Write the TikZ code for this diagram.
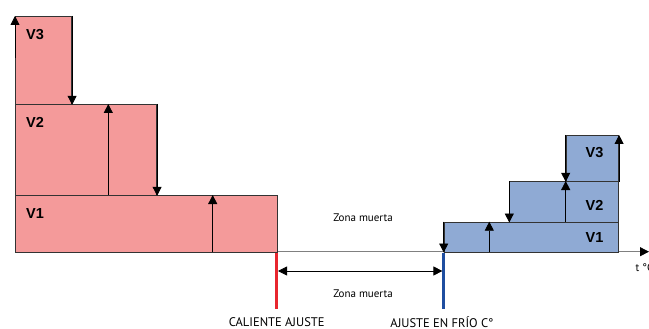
\documentclass[tikz,border=0pt]{standalone}
\usepackage{fontspec}
\setmainfont{PT Sans}
\newfontfamily\vfont{Liberation Sans}
\usetikzlibrary{arrows.meta}
\definecolor{hotfill}{HTML}{F49A9A}
\definecolor{coldfill}{HTML}{8FAAD4}
\definecolor{hotline}{HTML}{E8262E}
\definecolor{coldline}{HTML}{1F4EA0}
\definecolor{edge}{HTML}{333333}
\begin{document}
\begin{tikzpicture}[x=1pt,y=-1pt,
  hotbox/.style={draw=edge,fill=hotfill,line width=0.8pt,inner sep=0pt,anchor=north west},
  coldbox/.style={draw=edge,fill=coldfill,line width=0.8pt,inner sep=0pt,anchor=north west},
  vlab/.style={font=\vfont\bfseries\fontsize{14.5}{14.5}\selectfont,inner sep=0pt},
  small/.style={font=\fontsize{11}{12}\selectfont,inner sep=0pt},
  bottomlab/.style={font=\fontsize{12.5}{13}\selectfont,inner sep=0pt},
  flow/.style={line width=0.8pt,-{Triangle[length=9pt,width=9pt]}},
  marker/.style={line width=2.6pt}]
\useasboundingbox (0,0) rectangle (649,329);
% axis
\coordinate (ax0) at (15,251.7);
\coordinate (ax1) at (649,251.7);
\draw[line width=0.8pt,draw=gray,-{Triangle[length=9pt,width=9pt,fill=black,color=black]}] (ax0) -- (ax1);
% left (hot) boxes
\node[hotbox,minimum width=56.3pt,minimum height=88pt] (lv3) at (15,16) {};
\node[hotbox,minimum width=141.3pt,minimum height=91pt] (lv2) at (15,104) {};
\node[hotbox,minimum width=261.7pt,minimum height=56.7pt] (lv1) at (15,195) {};
\node[vlab] (tl3) at (35,35) {V3};
\node[vlab] (tl2) at (35,122.5) {V2};
\node[vlab] (tl1) at (35,213.5) {V1};
% right (cold) boxes
\node[coldbox,minimum width=174.6pt,minimum height=30pt] (rv1) at (443.7,221.7) {};
\node[coldbox,minimum width=109pt,minimum height=40.7pt] (rv2) at (509.3,181) {};
\node[coldbox,minimum width=52.6pt,minimum height=46pt] (rv3) at (565.7,135) {};
\node[vlab] (tr3) at (594.5,153) {V3};
\node[vlab] (tr2) at (594.5,205) {V2};
\node[vlab] (tr1) at (594.5,238) {V1};
% left arrows
\coordinate (a1s) at (15,58);
\coordinate (a3s) at (108.3,195);
\coordinate (a3e) at (108.3,104);
\coordinate (a5s) at (212.7,251.7);
\coordinate (a5e) at (212.7,195);
\draw[flow] (a1s) -- (lv3.north west);
\draw[flow] (lv3.north east) -- (lv3.south east);
\draw[flow] (a3s) -- (a3e);
\draw[flow] (lv2.north east) -- (lv2.south east);
\draw[flow] (a5s) -- (a5e);
% right arrows
\coordinate (b2s) at (489.3,251.7);
\coordinate (b2e) at (489.3,221.7);
\coordinate (b4s) at (565.7,221.7);
\coordinate (b4e) at (565.7,181);
\draw[flow] (rv1.north west) -- (rv1.south west);
\draw[flow] (b2s) -- (b2e);
\draw[flow] (rv2.north west) -- (rv2.south west);
\draw[flow] (b4s) -- (b4e);
\draw[flow] (rv3.north west) -- (rv3.south west);
\draw[flow] (rv3.south east) -- (rv3.north east);
% set-point markers
\coordinate (hot0) at (276.7,252.5);
\coordinate (hot1) at (276.7,309);
\coordinate (cold0) at (443.7,252.5);
\coordinate (cold1) at (443.7,309);
\draw[marker,hotline] (hot0) -- (hot1);
\draw[marker,coldline] (cold0) -- (cold1);
\coordinate (dz0) at (278,271);
\coordinate (dz1) at (442.4,271);
\draw[line width=0.8pt,{Triangle[length=9pt,width=9pt]}-{Triangle[length=9pt,width=9pt]}] (dz0) -- (dz1);
% texts
\node[small] (zm1) at (363,218) {Zona muerta};
\node[small] (zm2) at (363,294) {Zona muerta};
\node[bottomlab] (cal) at (276.7,322.5) {CALIENTE AJUSTE};
\node[bottomlab] (fri) at (442,322.5) {AJUSTE EN FRÍO C°};
\node[small,anchor=west] (tc) at (635.5,267.5) {t °C};
\end{tikzpicture}
\end{document}
